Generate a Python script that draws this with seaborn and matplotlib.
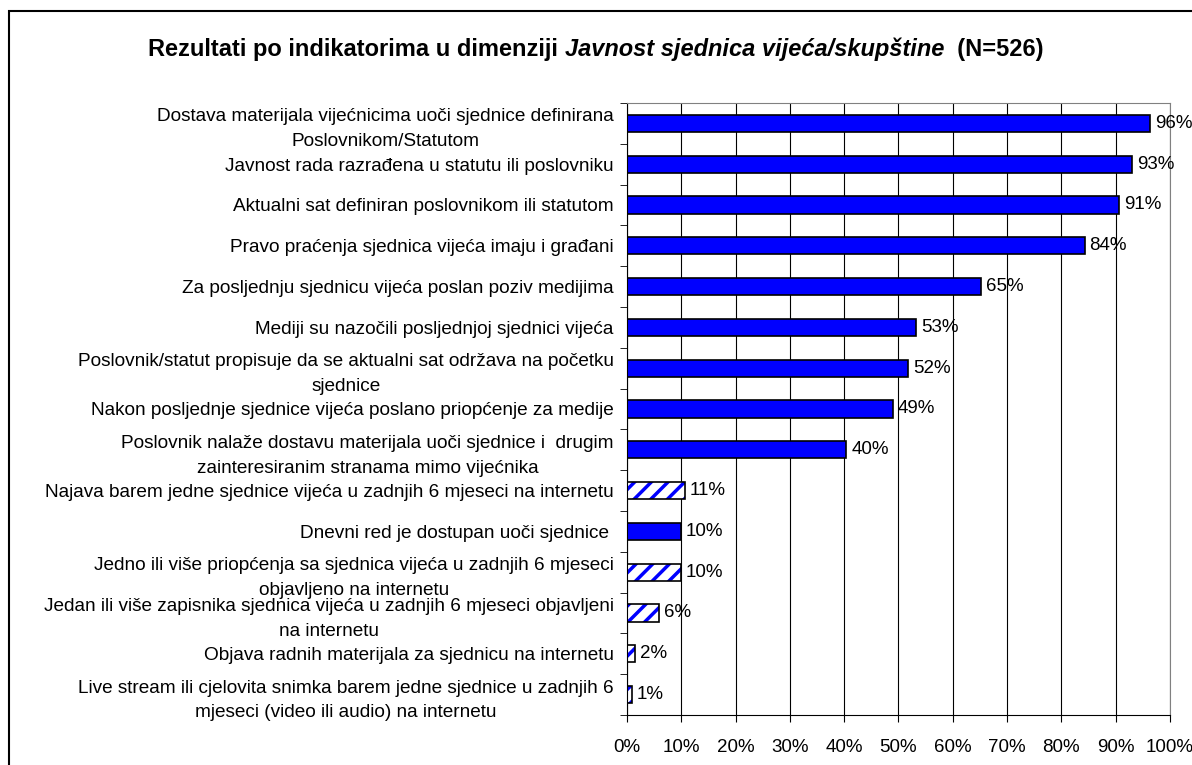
import numpy as np
import pandas as pd
import matplotlib
matplotlib.use("Agg")
import matplotlib.pyplot as plt
from matplotlib.patches import Rectangle
import seaborn as sns

indicators = [
    "Dostava materijala vijećnicima uoči sjednice definirana\nPoslovnikom/Statutom",
    "Javnost rada razrađena u statutu ili poslovniku",
    "Aktualni sat definiran poslovnikom ili statutom",
    "Pravo praćenja sjednica vijeća imaju i građani",
    "Za posljednju sjednicu vijeća poslan poziv medijima",
    "Mediji su nazočili posljednjoj sjednici vijeća",
    "Poslovnik/statut propisuje da se aktualni sat održava na početku\nsjednice",
    "Nakon posljednje sjednice vijeća poslano priopćenje za medije",
    "Poslovnik nalaže dostavu materijala uoči sjednice i  drugim\nzainteresiranim stranama mimo vijećnika",
    "Najava barem jedne sjednice vijeća u zadnjih 6 mjeseci na internetu",
    "Dnevni red je dostupan uoči sjednice ",
    "Jedno ili više priopćenja sa sjednica vijeća u zadnjih 6 mjeseci\nobjavljeno na internetu",
    "Jedan ili više zapisnika sjednica vijeća u zadnjih 6 mjeseci objavljeni\nna internetu",
    "Objava radnih materijala za sjednicu na internetu",
    "Live stream ili cjelovita snimka barem jedne sjednice u zadnjih 6\nmjeseci (video ili audio) na internetu",
]
shares = [96.3, 93.1, 90.7, 84.3, 65.2, 53.3, 51.8, 49.0, 40.4, 10.7, 9.9, 9.9, 5.9, 1.5, 0.9]
online = [False] * 9 + [True, False, True, True, True, True]

df = pd.DataFrame({"indicator": indicators, "share": shares, "online": online})

plt.rcParams["font.family"] = ["Liberation Sans", "DejaVu Sans"]
plt.rcParams["hatch.linewidth"] = 2.5

fig = plt.figure(figsize=(11.92, 7.65), dpi=100)
ax = fig.add_axes([0.526, 0.0654, 0.4555, 0.8000])

blue = "#0000FF"
sns.barplot(data=df, x="share", y="indicator", orient="h", color=blue,
            width=0.42, ax=ax, saturation=1, edgecolor="black", linewidth=1.2)
for patch, is_online in zip(ax.patches, df["online"]):
    if is_online:
        patch.set_facecolor("white")
        patch.set_edgecolor(blue)
        patch.set_hatch("//")
        patch.set_linewidth(0)
        ax.add_patch(Rectangle(patch.get_xy(), patch.get_width(), patch.get_height(),
                               fill=False, edgecolor="black", linewidth=1.2, zorder=3))

ax.bar_label(ax.containers[0], labels=[f"{round(v)}%" for v in df["share"]],
             padding=3.5, fontsize=13.5, clip_on=False)

ax.set_xlim(0, 100)
ax.set_ylim(len(df) - 0.5, -0.5)
ax.set_xticks(np.arange(0, 101, 10))
ax.set_xticklabels([f"{t}%" for t in range(0, 101, 10)], fontsize=13.5)
ax.tick_params(axis="x", length=5, direction="out", pad=12)
ax.set_yticks(range(len(df)))
ax.set_yticklabels(df["indicator"], fontsize=13.7, multialignment="center", linespacing=1.6)
ax.tick_params(axis="y", which="major", length=0, pad=9.5)
ax.set_yticks(np.arange(-0.5, len(df)), minor=True)
ax.tick_params(axis="y", which="minor", length=5, direction="out")
ax.set_xlabel("")
ax.set_ylabel("")
ax.grid(axis="x", color="black", linewidth=0.8)
ax.set_axisbelow(True)
for side in ["top", "right"]:
    ax.spines[side].set_color("#808080")
for side in ["left", "bottom"]:
    ax.spines[side].set_color("black")

# title with italic middle part
parts = [("Rezultati po indikatorima u dimenziji ", "normal"),
         ("Javnost sjednica vijeća/skupštine", "italic"),
         ("  (N=526)", "normal")]
fig.canvas.draw()
renderer = fig.canvas.get_renderer()
texts = []
for s, style in parts:
    t = fig.text(0, 0.935, s, fontsize=17, fontweight="bold", style=style, va="center")
    texts.append(t)
widths = [t.get_window_extent(renderer).width for t in texts]
x0 = (596 - sum(widths) / 2) / 1192
for t, w in zip(texts, widths):
    t.set_x(x0)
    x0 += w / 1192

fig.patches.append(Rectangle((9 / 1192, -0.01), 1.0, 1 - 11 / 765 + 0.01,
                             transform=fig.transFigure, fill=False,
                             edgecolor="black", linewidth=1.5))

fig.savefig("out.png", dpi=100)
